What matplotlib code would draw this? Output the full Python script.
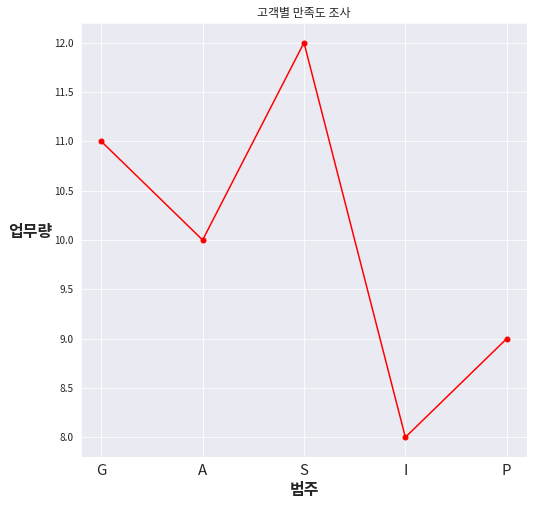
import matplotlib
matplotlib.use("Agg")
import matplotlib.pyplot as plt
import seaborn as sns

categories = ["G", "A", "S", "I", "P"]
workload = [11, 10, 12, 8, 9]

sns.set_style("darkgrid")
plt.rcParams['font.family'] = ['Noto Sans CJK KR', 'DejaVu Sans']
plt.rcParams['axes.unicode_minus'] = False

fig = plt.figure(figsize=(534 / 72, 507 / 72), dpi=72)
ax = fig.add_axes([81 / 534, 1 - 457 / 507, (527 - 81) / 534, (457 - 23) / 507])

ax.plot(categories, workload, color='red', marker='o', markersize=5)

ax.set_title("고객별 만족도 조사", fontsize=12)
ax.set_xlabel("범주", fontsize=16, fontweight='bold')
ax.set_ylabel("업무량", fontsize=16, fontweight='bold', rotation=0, labelpad=24)
ax.tick_params(axis='x', labelsize=15)
ax.tick_params(axis='y', labelsize=10)

fig.savefig("out.png", dpi=72)
